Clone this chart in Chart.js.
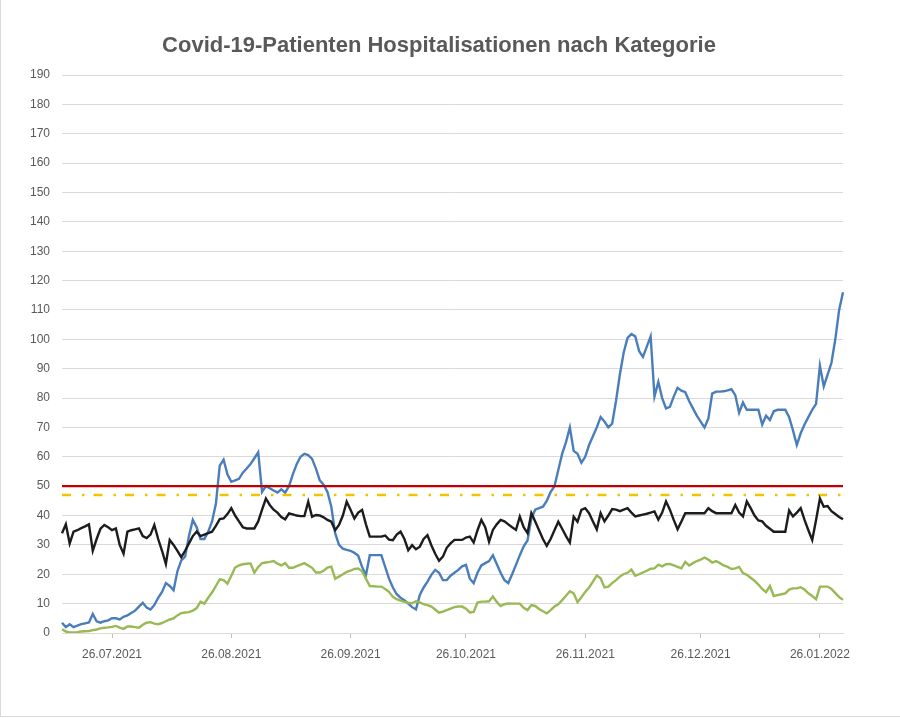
<!DOCTYPE html>
<html>
<head>
<meta charset="utf-8">
<script src="https://cdn.jsdelivr.net/npm/chart.js@4"></script>
<style>
	body { margin: 0; background: #ffffff; }
	#wrap { position: relative; width: 900px; height: 718px; }
	#frame { position: absolute; left: 0; top: 0; width: 899px; height: 716px; border-left: 1px solid #d9d9d9; border-bottom: 1px solid #d9d9d9; pointer-events: none; }
</style>
</head>
<body>
<div id="wrap">
	<canvas id="chart"></canvas>
	<div id="frame"></div>
</div>
<script>
const startDate = "2021-07-13";

const tickLabels = ["26.07.2021", "26.08.2021", "26.09.2021", "26.10.2021", "26.11.2021", "26.12.2021", "26.01.2022"];

const bluePatients = [
	3.5, 2, 3, 2, 2.5, 3, 3.3, 3.6, 6.5, 4,
	3.5, 4, 4.3, 5, 5, 4.6, 5.5, 6, 6.8, 7.6,
	9, 10.3, 8.7, 8, 9.5, 12, 14, 17, 16, 14.6,
	21, 24.7, 26, 33, 38.5, 36, 32, 32, 34.5, 38,
	44, 57, 59, 54, 51.5, 52, 52.5, 54.6, 56, 57.5,
	59.5, 61.5, 48, 50, 49.3, 48.5, 47.8, 48.9, 47.8, 50,
	54, 57.5, 60, 61, 60.6, 59.3, 56, 52, 50.5, 48,
	43, 34, 30, 28.7, 28.3, 28, 27.3, 26.3, 22.5, 19.7,
	26.5, 26.5, 26.5, 26.5, 22.5, 18.5, 15.5, 13.2, 12, 11.2,
	10, 8.8, 8, 13, 15.5, 17.5, 19.8, 21.5, 20.5, 18,
	18, 19.5, 20.5, 21.5, 22.7, 23.2, 18.5, 17, 20.5, 23,
	23.8, 24.5, 26.5, 23.5, 20.5, 18, 17, 20, 23.2, 26.5,
	29.5, 31.5, 39, 42, 42.5, 43, 45, 48, 50, 55.5,
	61, 65, 70, 62, 61, 58, 60, 64, 67, 70,
	73.5, 72, 70, 71.3, 79, 88, 95.5, 100.5, 101.8, 101,
	96, 94, 97.5, 101, 80.5, 85.5, 80, 76.5, 77, 80.5,
	83.5, 82.5, 82, 79, 76.5, 74, 72, 70, 73, 81.5,
	82.2, 82.2, 82.3, 82.6, 83, 81, 75, 78.5, 76, 76,
	76, 76, 71, 74, 72.5, 75.5, 76, 76, 76, 73.5,
	69, 64, 68, 71, 73.5, 76, 78, 91, 84, 88,
	92, 100, 110, 116
];

const blackPatients = [
	34, 37, 30.5, 34.5, 35, 35.7, 36.3, 37, 28, 32,
	35.5, 36.8, 36, 35, 35.6, 30, 27, 34.5, 35, 35.3,
	35.6, 33, 32.3, 33.5, 36.8, 32, 28, 23.5, 31.7, 30,
	28, 25.8, 28, 30.5, 33, 34.5, 33, 33.5, 34, 34.5,
	36.5, 38.8, 39, 40.5, 42.5, 40, 38, 36, 35.6, 35.6,
	35.6, 38, 42, 45.8, 43.6, 42, 41, 39.5, 38.7, 40.7,
	40.4, 40, 39.8, 39.8, 44.7, 39.6, 40.2, 40, 39.4, 38.5,
	37.9, 35, 36.8, 40, 44.7, 42, 39, 41, 41.9, 37,
	32.8, 32.8, 32.8, 32.8, 33.2, 31.8, 31.6, 33.5, 34.5, 32,
	28.2, 29.9, 28.5, 29.4, 32, 33.3, 29.9, 27, 24.6, 26,
	29, 30.5, 31.7, 31.7, 31.7, 32.5, 32.8, 30.8, 35, 38.5,
	36, 31.1, 35.1, 37, 38.5, 38, 37, 36, 35.1, 39.6,
	36, 34, 40.8, 38, 35, 32, 29.7, 32, 35, 37.9,
	35.5, 33, 30.8, 39.6, 37.9, 41.9, 42.5, 40.8, 38, 35.3,
	40.8, 38, 40, 42.2, 42, 41.5, 42, 42.5, 41, 39.7,
	40, 40.3, 40.6, 41, 41.4, 38.6, 41, 44.8, 42, 38.5,
	35.3, 38, 40.8, 40.8, 40.8, 40.8, 40.8, 40.8, 42.5, 41.5,
	40.8, 40.8, 40.8, 40.8, 40.8, 43.6, 41, 39.7, 44.8, 42.5,
	40, 38.3, 38, 36.5, 35.5, 34.5, 34.5, 34.5, 34.5, 41.7,
	39.7, 41, 42.5, 38.5, 35, 31.7, 38.5, 45.8, 43, 43.2,
	41.5, 40.5, 39.5, 38.7
];

const greenPatients = [
	1.3, 0.5, 0.2, 0.2, 0.3, 0.5, 0.6, 0.7, 1, 1.2,
	1.6, 1.8, 1.9, 2.1, 2.4, 1.8, 1.4, 2.2, 2.2, 2,
	1.8, 2.8, 3.5, 3.7, 3.2, 3, 3.4, 4, 4.6, 5,
	6, 6.8, 7, 7.1, 7.6, 8.5, 10.6, 10, 12, 13.8,
	16, 18.3, 18, 16.8, 19.5, 22.3, 23, 23.4, 23.6, 23.7,
	20.5, 22.5, 23.8, 24, 24.2, 24.5, 23.6, 23, 23.8, 22.2,
	22.2, 22.8, 23.3, 23.8, 23, 22.2, 20.6, 20.6, 21.2, 22.3,
	22.6, 18.5, 19.2, 20, 20.8, 21.2, 21.8, 22, 21, 18.5,
	16, 15.9, 15.8, 15.8, 15, 14, 12.3, 11.5, 11, 10.6,
	10.3, 10.1, 10.8, 10.4, 9.8, 9.5, 9, 8, 6.9, 7.3,
	7.8, 8.3, 8.8, 9, 9, 8.3, 7, 7.2, 10.4, 10.7,
	10.7, 10.8, 12.4, 10.6, 9.2, 9.8, 10.1, 10, 10, 10,
	8.6, 7.8, 9.5, 9.2, 8.2, 7.4, 6.7, 7.8, 9, 9.8,
	11.2, 12.7, 14.2, 13.5, 10.5, 12.2, 14, 15.5, 17.5, 19.6,
	18.6, 15.5, 15.8, 17, 18, 19.2, 20.1, 20.5, 21.6, 19.5,
	20, 20.6, 21.2, 21.9, 22, 23.3, 22.7, 23.4, 23.5, 23,
	22.5, 22, 24.2, 23, 23.8, 24.5, 25, 25.7, 25, 24,
	24.5, 23.8, 23, 22.5, 21.8, 22, 22.5, 20.4, 19.8, 18.8,
	17.8, 16.5, 15, 13.9, 16, 12.6, 12.9, 13.2, 13.5, 14.8,
	15.2, 15.2, 15.6, 14.8, 13.5, 12.6, 11.5, 15.8, 15.8, 15.8,
	15, 13.6, 12.2, 11.3
];

const redLimit = 50;
const yellowLimit = 47;

// daily category labels dd.mm.yyyy
function buildDates(start, count) {
	const out = [];
	const d = new Date(start + "T00:00:00Z");
	for (let i = 0; i < count; i++) {
		const dd = String(d.getUTCDate()).padStart(2, "0");
		const mm = String(d.getUTCMonth() + 1).padStart(2, "0");
		out.push(`${dd}.${mm}.${d.getUTCFullYear()}`);
		d.setUTCDate(d.getUTCDate() + 1);
	}
	return out;
}

const dates = buildDates(startDate, bluePatients.length);

const textColor = "#595959";
const gridColor = "#d9d9d9";
const fontFamily = "'Liberation Sans', Arial, sans-serif";

function line(data, color, order, extra) {
	return Object.assign({
		data: data,
		borderColor: color,
		backgroundColor: color,
		borderWidth: 2.4,
		pointRadius: 0,
		pointHoverRadius: 0,
		tension: 0,
		fill: false,
		order: order
	}, extra || {});
}

new Chart(document.getElementById("chart"), {
	type: "line",
	data: {
		labels: dates,
		datasets: [
			line(bluePatients, "#4a7ebb", 5),
			line(blackPatients, "#1c1c1c", 1),
			line(greenPatients, "#98b954", 2),
			line(dates.map(() => redLimit), "#c00000", 3),
			line(dates.map(() => yellowLimit), "#f5c200", 4, { borderDash: [9, 11, 2.5, 9] })
		]
	},
	options: {
		responsive: true,
		maintainAspectRatio: false,
		animation: false,
		layout: { padding: { left: 0, right: 22, top: 33, bottom: 55 } },
		plugins: {
			legend: { display: false },
			tooltip: { enabled: false },
			title: {
				display: true,
				text: "Covid-19-Patienten Hospitalisationen nach Kategorie",
				color: textColor,
				font: { family: fontFamily, size: 22, weight: "bold" },
				padding: { top: 0, bottom: 15.6 }
			}
		},
		scales: {
			x: {
				type: "category",
				offset: false,
				grid: {
					display: true,
					drawOnChartArea: false,
					drawTicks: true,
					tickLength: 5,
					color: ctx => tickLabels.includes(dates[ctx.index]) ? "#bfbfbf" : "rgba(0,0,0,0)"
				},
				border: { display: true, color: gridColor },
				ticks: {
					autoSkip: false,
					maxRotation: 0,
					minRotation: 0,
					padding: 9,
					color: textColor,
					font: { family: fontFamily, size: 12 },
					callback: (value, index) => tickLabels.includes(dates[index]) ? dates[index] : ""
				},
				afterFit: scale => { scale.height = 30; }
			},
			y: {
				min: 0,
				max: 190,
				grid: { color: gridColor, drawTicks: false },
				border: { display: false },
				ticks: {
					stepSize: 10,
					padding: 12,
					color: textColor,
					font: { family: fontFamily, size: 12 }
				},
				afterFit: scale => { scale.width = 62; }
			},
			// empty right margin axis so the title centres like the original
			yRight: {
				position: "right",
				display: true,
				grid: { display: false },
				border: { display: false },
				ticks: { display: false },
				afterFit: scale => { scale.width = 35; }
			}
		}
	}
});
</script>
</body>
</html>
